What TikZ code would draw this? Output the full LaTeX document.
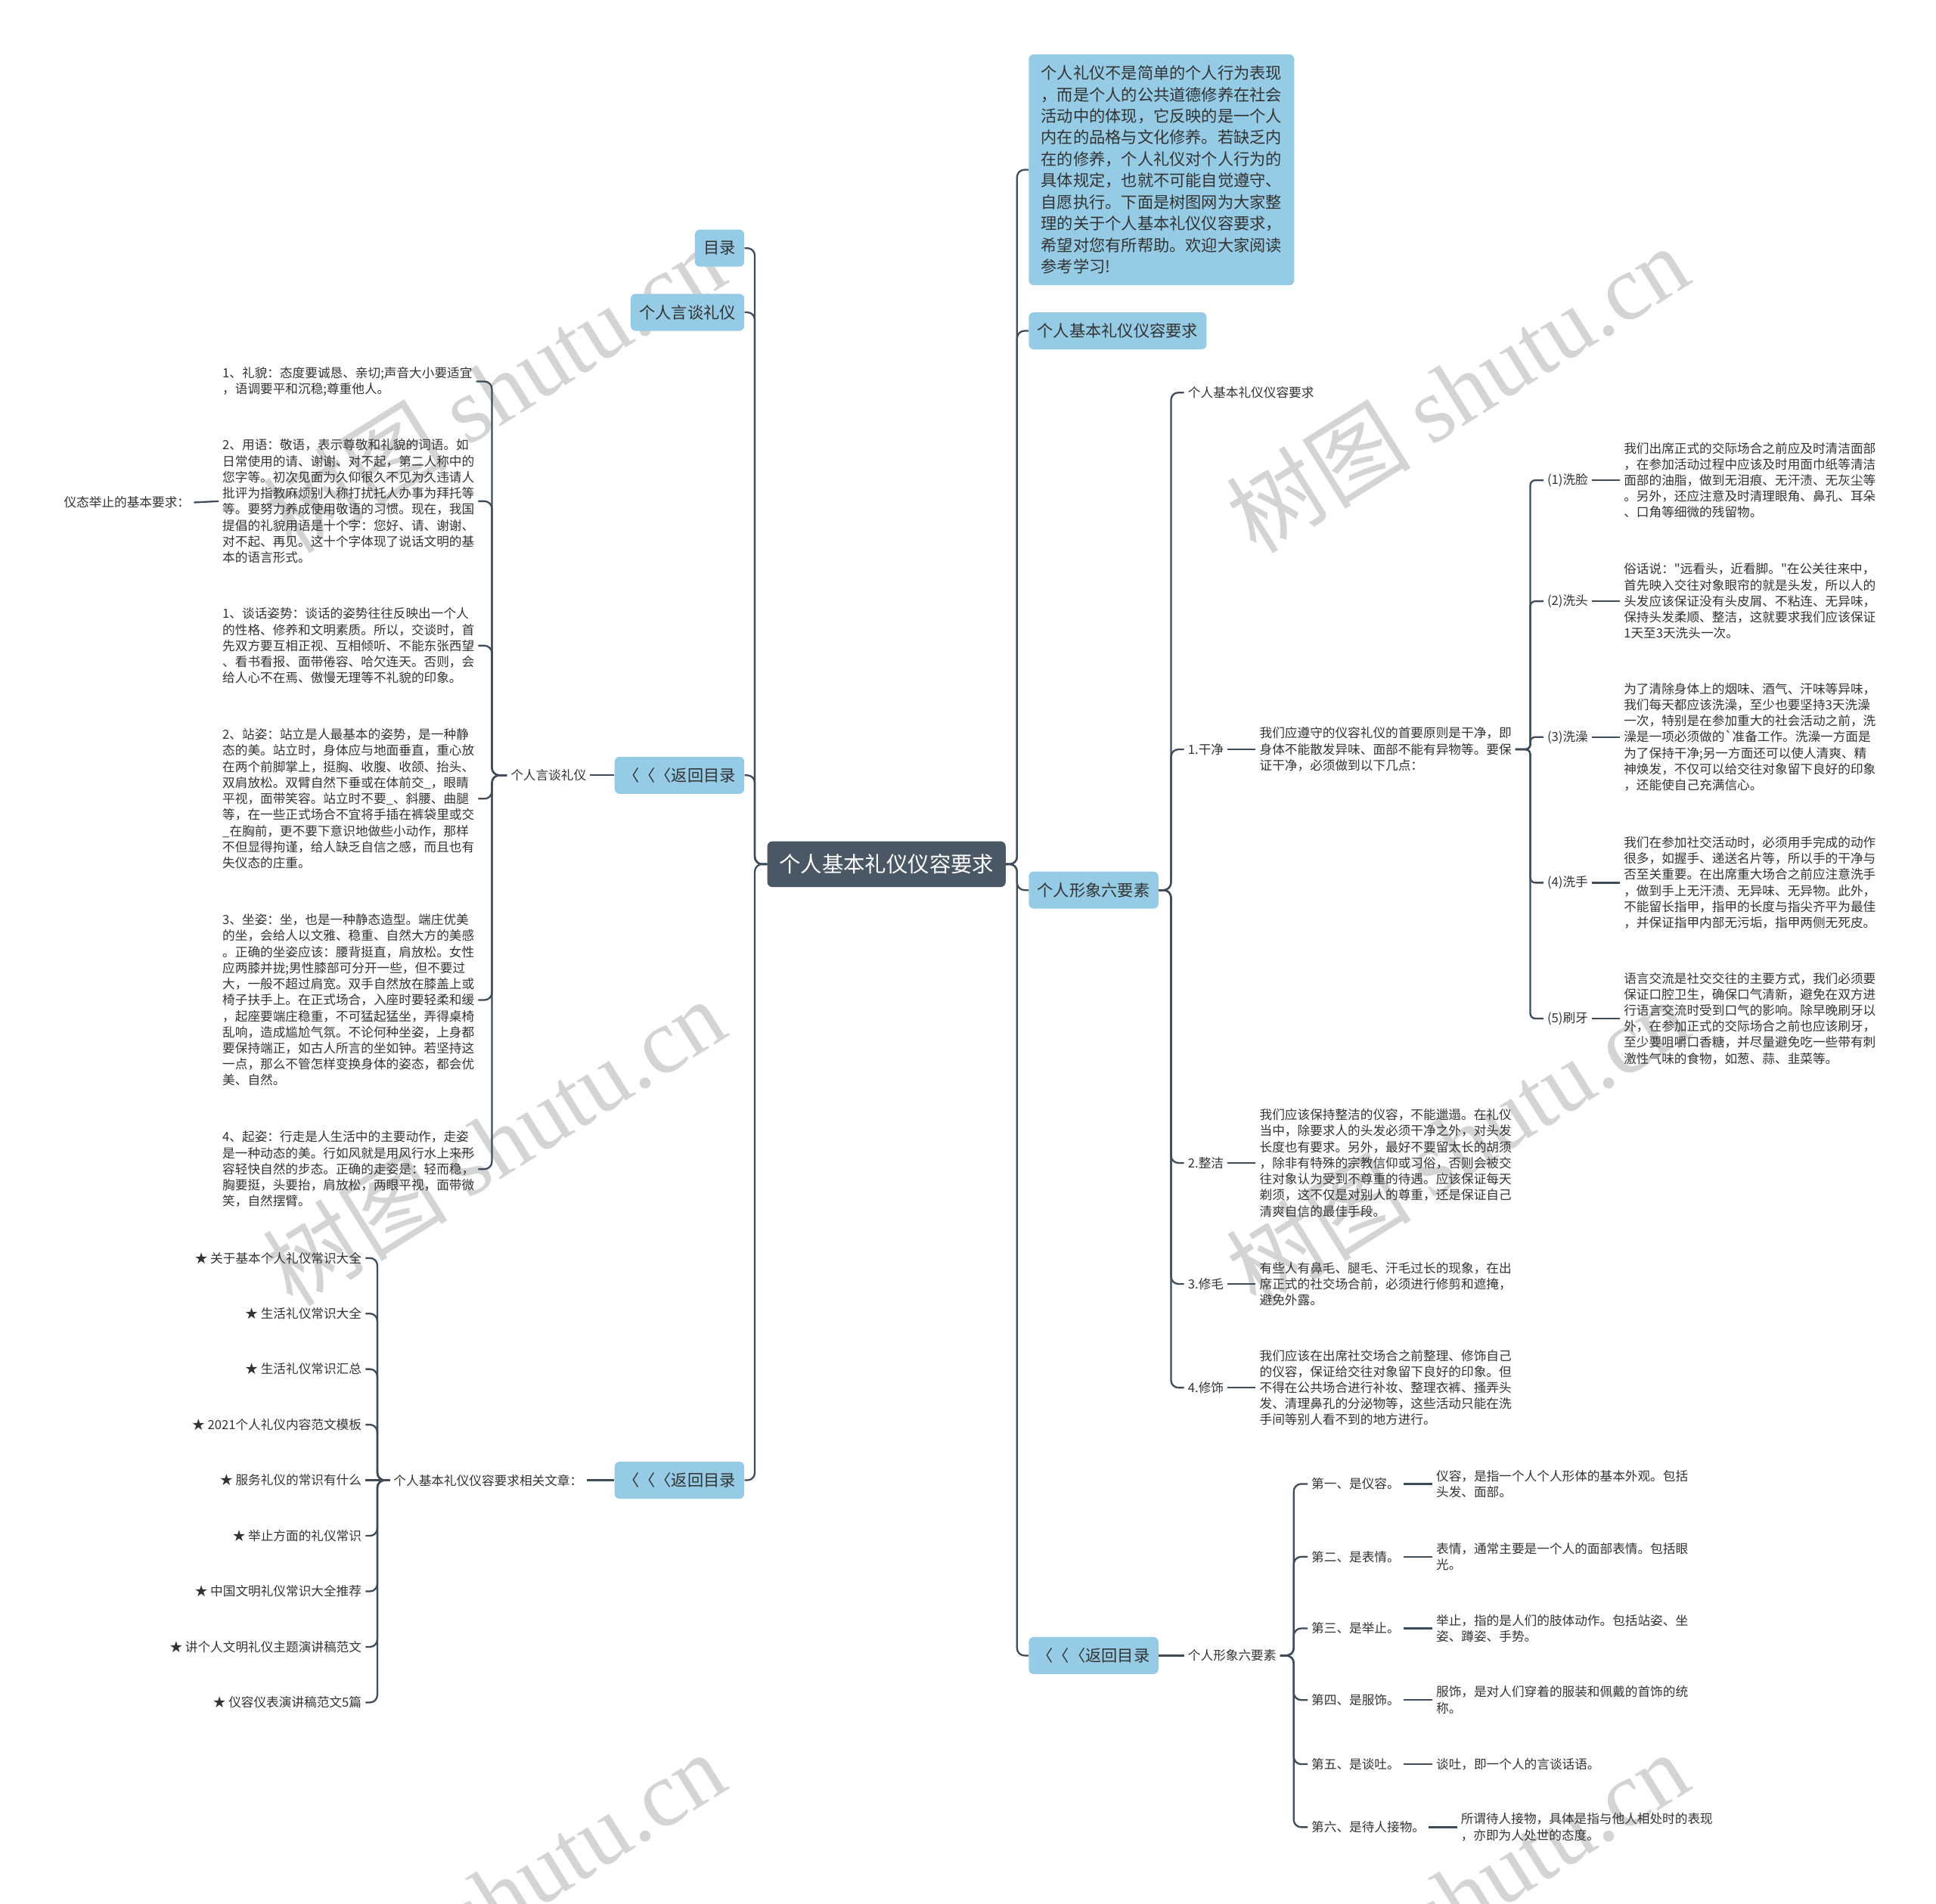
\documentclass[tikz,border=0pt]{standalone}
\usepackage{fontspec}
\setmainfont{Noto Sans CJK SC}[Ligatures=TeXOff]
\newfontfamily\wmserif{Liberation Serif}
\definecolor{boxc}{HTML}{95CBE4}
\definecolor{rootc}{HTML}{4A5866}
\definecolor{linec}{HTML}{3E4B58}
\definecolor{txtc}{HTML}{333333}
\definecolor{wmc}{HTML}{D4D4D4}
\tikzset{
  txt/.style={font=\fontsize{10.2}{13}\selectfont, text=txtc, align=left, inner xsep=3pt, inner ysep=1pt},
  bbox/.style={fill=boxc, rounded corners=4pt, font=\fontsize{13}{17.4}\selectfont, text=txtc, inner xsep=7pt, inner ysep=2pt, minimum height=30pt},
  rootbox/.style={fill=rootc, rounded corners=4pt, font=\fontsize{17.4}{20}\selectfont, text=white, inner xsep=9.5pt, minimum height=37pt},
  conn/.style={draw=linec, line width=1.4pt, rounded corners=6pt},
  wm/.style={font=\fontsize{75}{80}\selectfont, text=wmc, rotate=32}
}
\begin{document}
\begin{tikzpicture}[x=1pt,y=-1pt]
\fill[white] (0,0) rectangle (1568,1542);
\path[use as bounding box] (0,0) rectangle (1568,1542);

% watermarks
\node[wm] (wm1) at (400,315) {树图 {\wmserif shutu.cn}};
\node[wm] (wm2) at (1180,315) {树图 {\wmserif shutu.cn}};
\node[wm] (wm3) at (400,925) {树图 {\wmserif shutu.cn}};
\node[wm] (wm4) at (1180,925) {树图 {\wmserif shutu.cn}};
\node[wm] (wm5) at (400,1535) {树图 {\wmserif shutu.cn}};
\node[wm] (wm6) at (1180,1535) {树图 {\wmserif shutu.cn}};

% root
\node[rootbox] (root) at (718,700) {个人基本礼仪仪容要求};

% ---------- left side ----------
\node[bbox, anchor=east] (mulu) at (603,201) {目录};
\node[bbox, anchor=east] (yantan) at (603,253) {个人言谈礼仪};
\node[bbox, anchor=east] (back1) at (603,628) {〈〈〈返回目录};
\node[bbox, anchor=east] (back2) at (603,1199) {〈〈〈返回目录};

\node[txt, anchor=east] (lyt) at (478,628) {个人言谈礼仪};

\node[txt, anchor=west] (b1) at (177,309) {1、礼貌：态度要诚恳、亲切;声音大小要适宜\\，语调要平和沉稳;尊重他人。};
\node[txt, anchor=west] (b2) at (177,406) {2、用语：敬语，表示尊敬和礼貌的词语。如\\日常使用的请、谢谢、对不起，第二人称中的\\您字等。初次见面为久仰很久不见为久违请人\\批评为指教麻烦别人称打扰托人办事为拜托等\\等。要努力养成使用敬语的习惯。现在，我国\\提倡的礼貌用语是十个字：您好、请、谢谢、\\对不起、再见。这十个字体现了说话文明的基\\本的语言形式。};
\node[txt, anchor=west] (b3) at (177,523) {1、谈话姿势：谈话的姿势往往反映出一个人\\的性格、修养和文明素质。所以，交谈时，首\\先双方要互相正视、互相倾听、不能东张西望\\、看书看报、面带倦容、哈欠连天。否则，会\\给人心不在焉、傲慢无理等不礼貌的印象。};
\node[txt, anchor=west] (b4) at (177,647) {2、站姿：站立是人最基本的姿势，是一种静\\态的美。站立时，身体应与地面垂直，重心放\\在两个前脚掌上，挺胸、收腹、收颌、抬头、\\双肩放松。双臂自然下垂或在体前交\_，眼睛\\平视，面带笑容。站立时不要\_、斜腰、曲腿\\等，在一些正式场合不宜将手插在裤袋里或交\\\_在胸前，更不要下意识地做些小动作，那样\\不但显得拘谨，给人缺乏自信之感，而且也有\\失仪态的庄重。};
\node[txt, anchor=west] (b5) at (177,810) {3、坐姿：坐，也是一种静态造型。端庄优美\\的坐，会给人以文雅、稳重、自然大方的美感\\。正确的坐姿应该：腰背挺直，肩放松。女性\\应两膝并拢;男性膝部可分开一些，但不要过\\大，一般不超过肩宽。双手自然放在膝盖上或\\椅子扶手上。在正式场合，入座时要轻柔和缓\\，起座要端庄稳重，不可猛起猛坐，弄得桌椅\\乱响，造成尴尬气氛。不论何种坐姿，上身都\\要保持端正，如古人所言的坐如钟。若坚持这\\一点，那么不管怎样变换身体的姿态，都会优\\美、自然。};
\node[txt, anchor=west] (b6) at (177,947) {4、起姿：行走是人生活中的主要动作，走姿\\是一种动态的美。行如风就是用风行水上来形\\容轻快自然的步态。正确的走姿是：轻而稳，\\胸要挺，头要抬，肩放松，两眼平视，面带微\\笑，自然摆臂。};
\node[txt, anchor=east] (ytjz) at (157,407) {仪态举止的基本要求：};

\node[txt, anchor=east] (xgwz) at (475,1199) {个人基本礼仪仪容要求相关文章：};
\node[txt, anchor=east] (a1) at (296,1019) {★ 关于基本个人礼仪常识大全};
\node[txt, anchor=east] (a2) at (296,1064) {★ 生活礼仪常识大全};
\node[txt, anchor=east] (a3) at (296,1109) {★ 生活礼仪常识汇总};
\node[txt, anchor=east] (a4) at (296,1154) {★ 2021个人礼仪内容范文模板};
\node[txt, anchor=east] (a5) at (296,1199) {★ 服务礼仪的常识有什么};
\node[txt, anchor=east] (a6) at (296,1244) {★ 举止方面的礼仪常识};
\node[txt, anchor=east] (a7) at (296,1289) {★ 中国文明礼仪常识大全推荐};
\node[txt, anchor=east] (a8) at (296,1334) {★ 讲个人文明礼仪主题演讲稿范文};
\node[txt, anchor=east] (a9) at (296,1379) {★ 仪容仪表演讲稿范文5篇};

% ---------- right side ----------
\node[bbox, anchor=west, align=left, inner xsep=10pt, minimum height=187pt] (intro) at (833,137.5) {个人礼仪不是简单的个人行为表现\\，而是个人的公共道德修养在社会\\活动中的体现，它反映的是一个人\\内在的品格与文化修养。若缺乏内\\在的修养，个人礼仪对个人行为的\\具体规定，也就不可能自觉遵守、\\自愿执行。下面是树图网为大家整\\理的关于个人基本礼仪仪容要求，\\希望对您有所帮助。欢迎大家阅读\\参考学习!};
\node[bbox, anchor=west] (rq) at (833,268) {个人基本礼仪仪容要求};
\node[bbox, anchor=west] (six) at (833,721) {个人形象六要素};
\node[bbox, anchor=west] (back3) at (833,1341) {〈〈〈返回目录};

\node[txt, anchor=west] (r0) at (959,318) {个人基本礼仪仪容要求};
\node[txt, anchor=west] (r1) at (959,607) {1.干净};
\node[txt, anchor=west] (r1t) at (1017,607) {我们应遵守的仪容礼仪的首要原则是干净，即\\身体不能散发异味、面部不能有异物等。要保\\证干净，必须做到以下几点：};
\node[txt, anchor=west] (r2) at (959,942) {2.整洁};
\node[txt, anchor=west] (r2t) at (1017,942) {我们应该保持整洁的仪容，不能邋遢。在礼仪\\当中，除要求人的头发必须干净之外，对头发\\长度也有要求。另外，最好不要留太长的胡须\\，除非有特殊的宗教信仰或习俗，否则会被交\\往对象认为受到不尊重的待遇。应该保证每天\\剃须，这不仅是对别人的尊重，还是保证自己\\清爽自信的最佳手段。};
\node[txt, anchor=west] (r3) at (959,1040) {3.修毛};
\node[txt, anchor=west] (r3t) at (1017,1040) {有些人有鼻毛、腿毛、汗毛过长的现象，在出\\席正式的社交场合前，必须进行修剪和遮掩，\\避免外露。};
\node[txt, anchor=west] (r4) at (959,1124) {4.修饰};
\node[txt, anchor=west] (r4t) at (1017,1124) {我们应该在出席社交场合之前整理、修饰自己\\的仪容，保证给交往对象留下良好的印象。但\\不得在公共场合进行补妆、整理衣裤、搔弄头\\发、清理鼻孔的分泌物等，这些活动只能在洗\\手间等别人看不到的地方进行。};

\node[txt, anchor=west] (w1) at (1250,389) {(1)洗脸};
\node[txt, anchor=west] (w1t) at (1312,389) {我们出席正式的交际场合之前应及时清洁面部\\，在参加活动过程中应该及时用面巾纸等清洁\\面部的油脂，做到无泪痕、无汗渍、无灰尘等\\。另外，还应注意及时清理眼角、鼻孔、耳朵\\、口角等细微的残留物。};
\node[txt, anchor=west] (w2) at (1250,487) {(2)洗头};
\node[txt, anchor=west] (w2t) at (1312,487) {俗话说："远看头，近看脚。"在公关往来中，\\首先映入交往对象眼帘的就是头发，所以人的\\头发应该保证没有头皮屑、不粘连、无异味，\\保持头发柔顺、整洁，这就要求我们应该保证\\1天至3天洗头一次。};
\node[txt, anchor=west] (w3) at (1250,597) {(3)洗澡};
\node[txt, anchor=west] (w3t) at (1312,597) {为了清除身体上的烟味、酒气、汗味等异味，\\我们每天都应该洗澡，至少也要坚持3天洗澡\\一次，特别是在参加重大的社会活动之前，洗\\澡是一项必须做的`准备工作。洗澡一方面是\\为了保持干净;另一方面还可以使人清爽、精\\神焕发，不仅可以给交往对象留下良好的印象\\，还能使自己充满信心。};
\node[txt, anchor=west] (w4) at (1250,715) {(4)洗手};
\node[txt, anchor=west] (w4t) at (1312,715) {我们在参加社交活动时，必须用手完成的动作\\很多，如握手、递送名片等，所以手的干净与\\否至关重要。在出席重大场合之前应注意洗手\\，做到手上无汗渍、无异味、无异物。此外，\\不能留长指甲，指甲的长度与指尖齐平为最佳\\，并保证指甲内部无污垢，指甲两侧无死皮。};
\node[txt, anchor=west] (w5) at (1250,825) {(5)刷牙};
\node[txt, anchor=west] (w5t) at (1312,825) {语言交流是社交交往的主要方式，我们必须要\\保证口腔卫生，确保口气清新，避免在双方进\\行语言交流时受到口气的影响。除早晚刷牙以\\外，在参加正式的交际场合之前也应该刷牙，\\至少要咀嚼口香糖，并尽量避免吃一些带有刺\\激性气味的食物，如葱、蒜、韭菜等。};

\node[txt, anchor=west] (lxx) at (959,1341) {个人形象六要素};
\node[txt, anchor=west] (e1) at (1059,1202) {第一、是仪容。};
\node[txt, anchor=west] (e1t) at (1160,1202) {仪容，是指一个人个人形体的基本外观。包括\\头发、面部。};
\node[txt, anchor=west] (e2) at (1059,1261) {第二、是表情。};
\node[txt, anchor=west] (e2t) at (1160,1261) {表情，通常主要是一个人的面部表情。包括眼\\光。};
\node[txt, anchor=west] (e3) at (1059,1319) {第三、是举止。};
\node[txt, anchor=west] (e3t) at (1160,1319) {举止，指的是人们的肢体动作。包括站姿、坐\\姿、蹲姿、手势。};
\node[txt, anchor=west] (e4) at (1059,1377) {第四、是服饰。};
\node[txt, anchor=west] (e4t) at (1160,1377) {服饰，是对人们穿着的服装和佩戴的首饰的统\\称。};
\node[txt, anchor=west] (e5) at (1059,1429) {第五、是谈吐。};
\node[txt, anchor=west] (e5t) at (1160,1429) {谈吐，即一个人的言谈话语。};
\node[txt, anchor=west] (e6) at (1059,1480) {第六、是待人接物。};
\node[txt, anchor=west] (e6t) at (1180,1480) {所谓待人接物，具体是指与他人相处时的表现\\，亦即为人处世的态度。};

% ---------- connectors ----------
\foreach \c in {mulu,yantan,back1,back2}
  \draw[conn] (root.west) -- ++(-10,0) |- (\c.east);
\draw[conn] (back1.west) -- (lyt.east);
\foreach \c in {b1,b2,b3,b4,b5,b6}
  \draw[conn] (lyt.west) -- ++(-12,0) |- (\c.east);
\draw[conn] (b2.west) -- (ytjz.east);
\draw[conn] (back2.west) -- (xgwz.east);
\foreach \c in {a1,a2,a3,a4,a6,a7,a8,a9}
  \draw[conn] (xgwz.west) -- ++(-10,0) |- (\c.east);
\draw[conn] (xgwz.west) -- (a5.east);

\foreach \c in {intro,rq,six,back3}
  \draw[conn] (root.east) -- ++(9,0) |- (\c.west);
\foreach \c in {r0,r1,r2,r3,r4}
  \draw[conn] (six.east) -- ++(10,0) |- (\c.west);
\draw[conn] (r1.east) -- (r1t.west);
\draw[conn] (r2.east) -- (r2t.west);
\draw[conn] (r3.east) -- (r3t.west);
\draw[conn] (r4.east) -- (r4t.west);
\foreach \c in {w1,w2,w3,w4,w5}
  \draw[conn, rounded corners=4pt] (r1t.east) -- ++(12,0) |- (\c.west);
\draw[conn] (w1.east) -- (w1t.west);
\draw[conn] (w2.east) -- (w2t.west);
\draw[conn] (w3.east) -- (w3t.west);
\draw[conn] (w4.east) -- (w4t.west);
\draw[conn] (w5.east) -- (w5t.west);
\draw[conn] (back3.east) -- (lxx.west);
\foreach \c in {e1,e2,e3,e4,e5,e6}
  \draw[conn] (lxx.east) -- ++(11,0) |- (\c.west);
\draw[conn] (e1.east) -- (e1t.west);
\draw[conn] (e2.east) -- (e2t.west);
\draw[conn] (e3.east) -- (e3t.west);
\draw[conn] (e4.east) -- (e4t.west);
\draw[conn] (e5.east) -- (e5t.west);
\draw[conn] (e6.east) -- (e6t.west);
\end{tikzpicture}
\end{document}
